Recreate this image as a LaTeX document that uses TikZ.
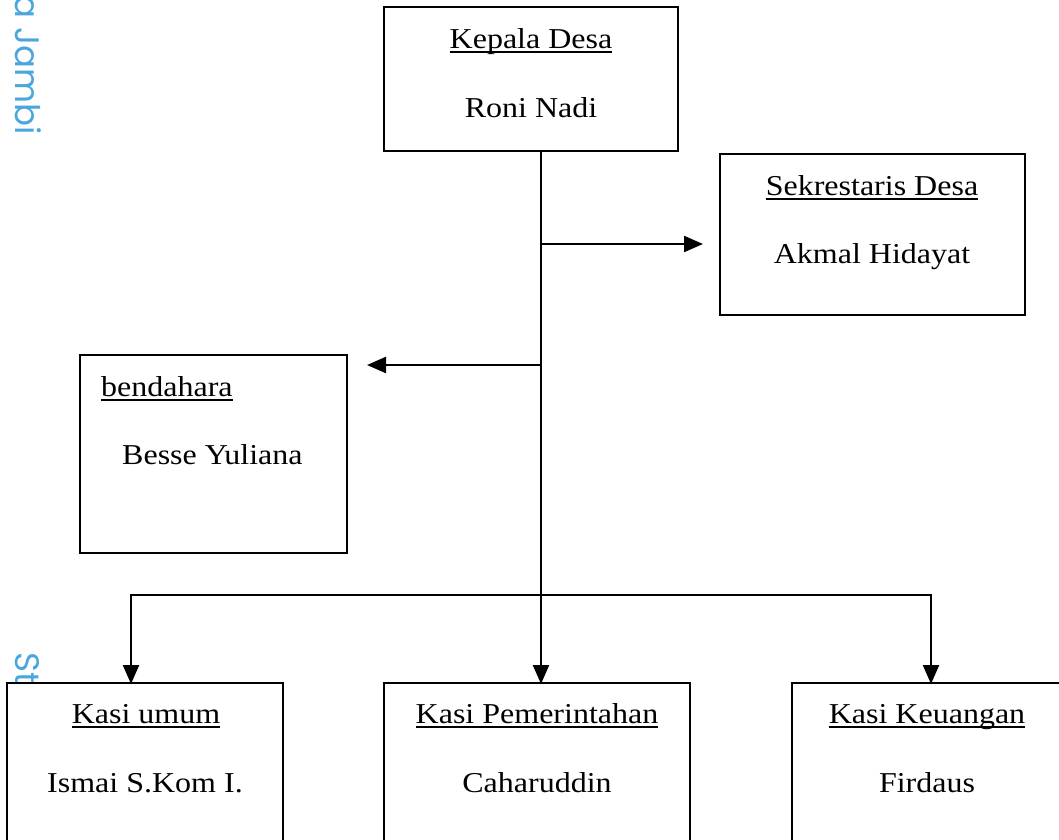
\documentclass[tikz,border=0pt]{standalone}
\usepackage{fontspec}
\setmainfont{Liberation Serif}
\newfontfamily\wmfont{Poppins}
\usepackage{graphicx}
\usetikzlibrary{arrows.meta}
\definecolor{wmblue}{HTML}{4BA6DD}
\newcommand\vsq[1]{\scalebox{1}[0.9]{#1}}
\newcommand\ulx[1]{\setbox0=\hbox{#1}\rlap{\rule[-5pt]{\wd0}{2.2pt}}\box0}
\begin{document}
\begin{tikzpicture}[x=1pt,y=-1pt,
  box/.style={draw, line width=2pt, inner sep=0pt, outer sep=0pt, anchor=north west},
  lbl/.style={anchor=base, inner sep=0pt, font=\fontsize{32}{36}\selectfont},
  lblw/.style={lbl, anchor=base west},
  link/.style={line width=2.2pt},
  arr/.style={line width=2.2pt, -{Triangle[length=19pt,width=16pt]}},
  wm/.style={text=wmblue, font=\wmfont\fontsize{34}{40}\selectfont, rotate=-90, anchor=base west, inner sep=0pt}]
\useasboundingbox (0,0) rectangle (1059,839);

% watermark fragments
\node[wm] (wm1) at (15,-5) {a Jambi};
\node[wm] (wm2) at (15,652) {St};

% Kepala Desa
\node[box, minimum width=294pt, minimum height=144pt] (kd) at (384,7) {};
\node[lbl] (kdt) at (531,48) {\vsq{\ulx{Kepala Desa}}};
\node[lbl] (kdn) at (531,117) {\vsq{Roni Nadi}};

% Sekrestaris Desa
\node[box, minimum width=305pt, minimum height=161pt] (sd) at (720,154) {};
\node[lbl] (sdt) at (872,195) {\vsq{\ulx{Sekrestaris Desa}}};
\node[lbl] (sdn) at (872,263) {\vsq{Akmal Hidayat}};

% bendahara
\node[box, minimum width=267pt, minimum height=198pt] (bd) at (80,355) {};
\node[lblw] (bdt) at (101,396) {\vsq{\ulx{bendahara}}};
\node[lblw] (bdn) at (122,464) {\vsq{Besse Yuliana}};

% Kasi umum
\node[box, minimum width=276pt, minimum height=220pt] (ku) at (7,683) {};
\node[lbl] (kut) at (146,723) {\vsq{\ulx{Kasi umum}}};
\node[lbl] (kun) at (145,792) {\vsq{Ismai S.Kom I.}};

% Kasi Pemerintahan
\node[box, minimum width=306pt, minimum height=220pt] (kp) at (384,683) {};
\node[lbl] (kpt) at (537,723) {\vsq{\ulx{Kasi Pemerintahan}}};
\node[lbl] (kpn) at (537,792) {\vsq{Caharuddin}};

% Kasi Keuangan
\node[box, minimum width=300pt, minimum height=220pt] (kk) at (792,683) {};
\node[lbl] (kkt) at (927,723) {\vsq{\ulx{Kasi Keuangan}}};
\node[lbl] (kkn) at (927,792) {\vsq{Firdaus}};

% connectors
\coordinate (top) at (541,151);
\coordinate (bus) at (541,595);
\coordinate (bl) at (131,595);
\coordinate (br) at (931,595);
\coordinate (sdj) at (541,244);
\coordinate (sdtip) at (703,244);
\coordinate (bdj) at (541,365);
\coordinate (bdtip) at (367,365);

\draw[link] (top) -- (bus);
\draw[link, line cap=rect] (bl) -- (br);
\draw[arr] (sdj) -- (sdtip);
\draw[arr] (bdj) -- (bdtip);
\draw[arr] (bl) -- ([yshift=-1pt]bl |- ku.north);
\draw[arr] (bus) -- ([yshift=-1pt]bus |- kp.north);
\draw[arr] (br) -- ([yshift=-1pt]br |- kk.north);
\end{tikzpicture}
\end{document}
